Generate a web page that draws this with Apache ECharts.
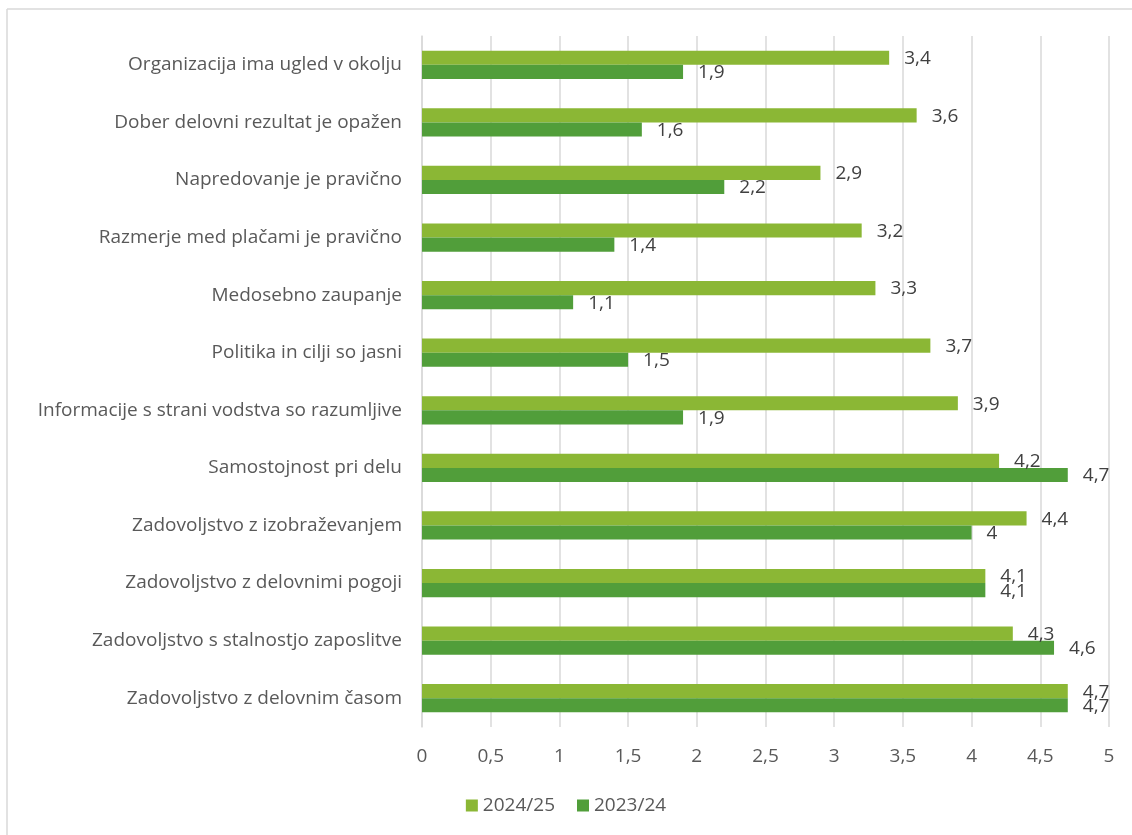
<!DOCTYPE html>
<html><head><meta charset="utf-8">
<script src="https://cdn.jsdelivr.net/npm/echarts@6/dist/echarts.min.js"></script>
<style>html,body{margin:0;padding:0;background:#fff}#c{width:1132px;height:835px}</style>
</head><body><div id="c"></div>
<script>
const categories = [
  'Zadovoljstvo z delovnim časom',
  'Zadovoljstvo s stalnostjo zaposlitve',
  'Zadovoljstvo z delovnimi pogoji',
  'Zadovoljstvo z izobraževanjem',
  'Samostojnost pri delu',
  'Informacije s strani vodstva so razumljive',
  'Politika in cilji so jasni',
  'Medosebno zaupanje',
  'Razmerje med plačami je pravično',
  'Napredovanje je pravično',
  'Dober delovni rezultat je opažen',
  'Organizacija ima ugled v okolju'
];
const s2024_25 = [4.7, 4.3, 4.1, 4.4, 4.2, 3.9, 3.7, 3.3, 3.2, 2.9, 3.6, 3.4];
const s2023_24 = [4.7, 4.6, 4.1, 4.0, 4.7, 1.9, 1.5, 1.1, 1.4, 2.2, 1.6, 1.9];
const xTicks = [0, 0.5, 1, 1.5, 2, 2.5, 3, 3.5, 4, 4.5, 5];

const font = 'Open Sans';
const fs = 19;
const fmt = v => String(v).replace('.', ',');
const chart = echarts.init(document.getElementById('c'));
chart.setOption({
  animation: false,
  textStyle: {fontFamily: font},
  graphic: [
    {type: 'line', shape: {x1: 7, y1: 9, x2: 1132, y2: 9}, style: {stroke: '#d9d9d9', lineWidth: 1.5}},
    {type: 'line', shape: {x1: 7, y1: 9, x2: 7, y2: 835}, style: {stroke: '#d9d9d9', lineWidth: 1.5}}
  ],
  grid: {left: 422, right: 23, top: 36, bottom: 108, containLabel: false},
  legend: {
    bottom: 15, left: 'center', itemWidth: 12, itemHeight: 12, itemGap: 22,
    icon: 'rect',
    textStyle: {color: '#595959', fontSize: fs, fontFamily: font},
    data: ['2024/25', '2023/24']
  },
  xAxis: {
    type: 'value', min: 0, max: 5, interval: 0.5,
    axisLine: {show: false}, axisTick: {show: false},
    splitLine: {lineStyle: {color: '#d9d9d9', width: 1.5}},
    axisLabel: {color: '#595959', fontSize: fs, margin: 20, formatter: v => fmt(v)}
  },
  yAxis: {
    type: 'category', data: categories,
    axisLine: {show: true, lineStyle: {color: '#d9d9d9', width: 1.5}},
    axisTick: {show: false},
    axisLabel: {color: '#595959', fontSize: fs, margin: 20}
  },
  series: [
    {
      name: '2024/25', type: 'bar', data: s2024_25,
      barGap: '0%', barCategoryGap: '51%',
      itemStyle: {color: '#8bb735'},
      label: {show: true, position: 'right', distance: 15, color: '#404040', fontSize: fs, formatter: p => fmt(p.value), offset: [0, 1]}
    },
    {
      name: '2023/24', type: 'bar', data: s2023_24,
      barGap: '0%', barCategoryGap: '51%',
      itemStyle: {color: '#519e3a'},
      label: {show: true, position: 'right', distance: 15, color: '#404040', fontSize: fs, formatter: p => fmt(p.value), offset: [0, 1]}
    }
  ]
});
</script></body></html>
